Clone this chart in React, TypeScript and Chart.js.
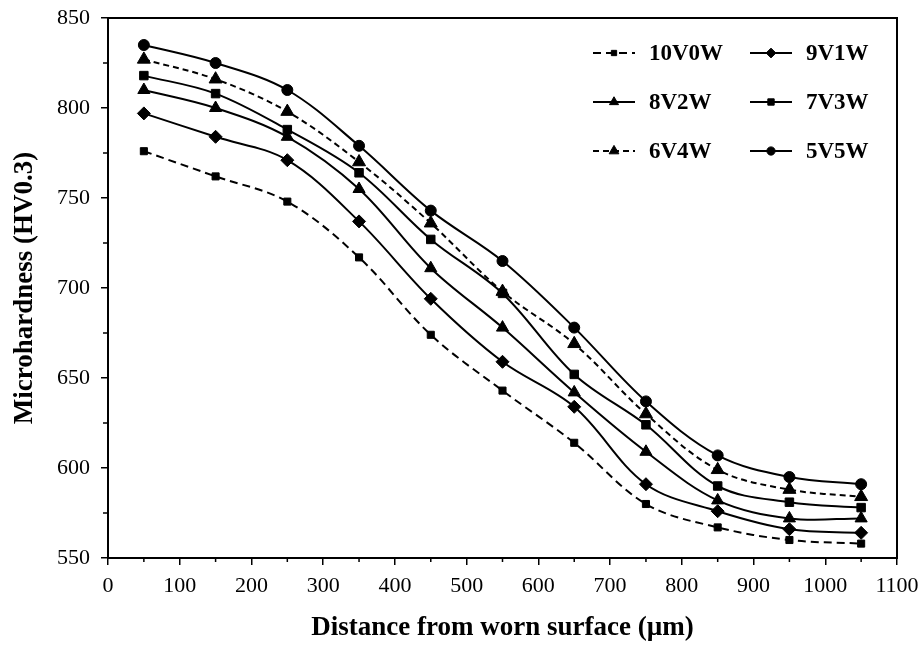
import React, { useEffect, useRef } from 'react';
import { Chart, registerables } from 'chart.js';
import { drawPoint } from 'chart.js/helpers';

Chart.register(...registerables);

// ---- data ----
const distances = [50, 150, 250, 350, 450, 550, 650, 750, 850, 950, 1050];
const hv10V0W = [776, 762, 748, 717, 674, 643, 614, 580, 567, 560, 558];
const hv9V1W = [797, 784, 771, 737, 694, 659, 634, 591, 576, 566, 564];
const hv8V2W = [810, 800, 784, 755, 711, 678, 642, 609, 582, 572, 572];
const hv7V3W = [818, 808, 788, 764, 727, 697, 652, 624, 590, 581, 578];
const hv6V4W = [827, 816, 798, 770, 736, 698, 669, 630, 599, 588, 584];
const hv5V5W = [835, 825, 810, 779, 743, 715, 678, 637, 607, 595, 591];

const seriesLabels = ['10V0W', '9V1W', '8V2W', '7V3W', '6V4W', '5V5W'];
const seriesValues = [hv10V0W, hv9V1W, hv8V2W, hv7V3W, hv6V4W, hv5V5W];

const xTitle = 'Distance from worn surface (\u00b5m)';
const yTitle = 'Microhardness (HV0.3)';

// ---- styles ----
const SERIF = "'Times New Roman', 'Liberation Serif', serif";
const styles: any[] = [
  { dash: [8, 5], pointStyle: 'rect', radius: 5 },
  { dash: [], pointStyle: 'rectRot', radius: 6.5 },
  { dash: [], pointStyle: 'triangle', radius: 7 },
  { dash: [], pointStyle: 'rect', radius: 6 },
  { dash: [6, 4], pointStyle: 'triangle', radius: 7.5 },
  { dash: [], pointStyle: 'circle', radius: 5.5 },
];

const framePlugin = {
  id: 'frameAndMinor',
  afterDraw(chart: any) {
    const { ctx, chartArea } = chart;
    const xs = chart.scales.x;
    const ys = chart.scales.y;
    ctx.save();
    ctx.strokeStyle = '#000';
    ctx.lineWidth = 2;
    ctx.setLineDash([]);
    ctx.strokeRect(chartArea.left, chartArea.top, chartArea.right - chartArea.left, chartArea.bottom - chartArea.top);
    ctx.lineWidth = 1.5;
    ctx.beginPath();
    for (let v = 575; v < 850; v += 50) {
      const py = ys.getPixelForValue(v);
      ctx.moveTo(chartArea.left - 5, py);
      ctx.lineTo(chartArea.left, py);
    }
    for (let v = 50; v < 1100; v += 100) {
      const px = xs.getPixelForValue(v);
      ctx.moveTo(px, chartArea.bottom);
      ctx.lineTo(px, chartArea.bottom + 4);
    }
    ctx.stroke();
    ctx.restore();
  },
};

const legendPlugin = {
  id: 'gridLegend',
  afterDraw(chart: any) {
    const { ctx, chartArea } = chart;
    const colX = [chartArea.right - 304, chartArea.right - 147];
    const rowY = [chartArea.top + 35, chartArea.top + 84, chartArea.top + 133];
    ctx.save();
    seriesLabels.forEach((label, i) => {
      const col = i % 2;
      const row = Math.floor(i / 2);
      const x0 = colX[col];
      const y = rowY[row];
      const st = styles[i];
      ctx.strokeStyle = '#000';
      ctx.fillStyle = '#000';
      ctx.lineWidth = 2;
      ctx.setLineDash(st.dash);
      ctx.beginPath();
      ctx.moveTo(x0, y);
      ctx.lineTo(x0 + 42, y);
      ctx.stroke();
      ctx.setLineDash([]);
      ctx.lineWidth = 1;
      drawPoint(ctx, { pointStyle: st.pointStyle, radius: st.radius * 0.75, rotation: 0, borderWidth: 1 }, x0 + 21, y);
      ctx.font = `bold 23px ${SERIF}`;
      ctx.textBaseline = 'middle';
      ctx.textAlign = 'left';
      ctx.fillText(label, x0 + 56, y + 1);
    });
    ctx.restore();
  },
};

export default function App() {
  const canvasRef = useRef<HTMLCanvasElement | null>(null);

  useEffect(() => {
    const canvas = canvasRef.current;
    if (!canvas) return;
    const datasets = seriesLabels.map((label, i) => ({
      label,
      data: distances.map((d, j) => ({ x: d, y: seriesValues[i][j] })),
      borderColor: '#000',
      backgroundColor: '#000',
      borderWidth: 2,
      borderDash: styles[i].dash,
      pointStyle: styles[i].pointStyle,
      pointRadius: styles[i].radius,
      pointBorderWidth: 1,
      pointBackgroundColor: '#000',
      pointBorderColor: '#000',
      tension: 0.35,
      fill: false,
    }));
    const chart = new Chart(canvas, {
      type: 'line',
      data: { datasets },
      options: {
        responsive: false,
        animation: false,
        devicePixelRatio: 1,
        layout: { padding: { left: 0, right: 24, top: 18, bottom: 0 } },
        plugins: { legend: { display: false }, tooltip: { enabled: false } },
        scales: {
          x: {
            type: 'linear',
            min: 0,
            max: 1100,
            afterFit: (s: any) => { s.height = 87; s.paddingLeft = 0; s.paddingRight = 0; },
            border: { display: false },
            grid: { drawOnChartArea: false, drawTicks: true, tickLength: 7, color: '#000', lineWidth: 1.5 },
            ticks: { stepSize: 100, color: '#000', padding: 8, maxRotation: 0, autoSkip: false, callback: (v: any) => String(v), font: { family: SERIF, size: 22 } },
            title: { display: true, text: xTitle, color: '#000', padding: { top: 0, bottom: 1 }, font: { family: SERIF, size: 27, weight: 'bold' } },
          },
          y: {
            type: 'linear',
            min: 550,
            max: 850,
            afterFit: (s: any) => { s.width = 108; s.paddingTop = 0; s.paddingBottom = 0; },
            border: { display: false },
            grid: { drawOnChartArea: false, drawTicks: true, tickLength: 7, color: '#000', lineWidth: 1.5 },
            ticks: { stepSize: 50, color: '#000', padding: 11, callback: (v: any) => String(v), font: { family: SERIF, size: 22 } },
            title: { display: true, text: yTitle, color: '#000', padding: { top: 9, bottom: 0 }, font: { family: SERIF, size: 27, weight: 'bold' } },
          },
        },
      },
      plugins: [framePlugin, legendPlugin],
    });
    return () => chart.destroy();
  }, []);

  return (
    <div style={{ position: 'fixed', left: 0, top: 0, width: 921, height: 645, background: '#fff' }}>
      <canvas ref={canvasRef} width={921} height={645} style={{ display: 'block' }} />
    </div>
  );
}
